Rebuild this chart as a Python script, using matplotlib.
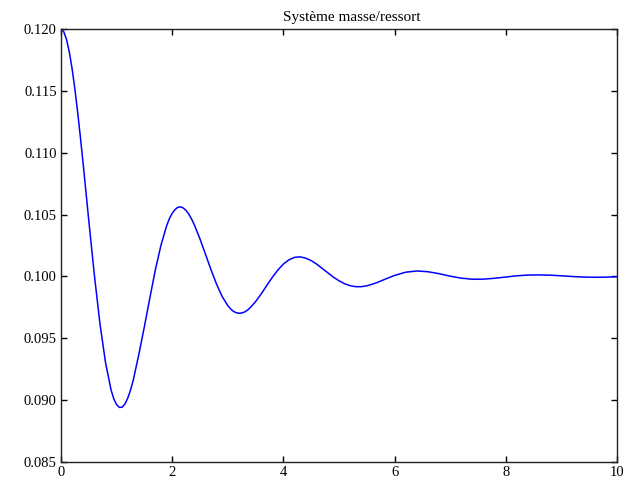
import matplotlib
matplotlib.use("Agg")
import matplotlib.pyplot as plt
import numpy as np

# position of the mass over time
t = [0.0, 0.05, 0.1, 0.15, 0.2, 0.25, 0.3, 0.35, 0.4, 0.5, 0.6, 0.7, 0.8, 0.9,
     0.95, 1.0, 1.05, 1.1, 1.15, 1.2, 1.25, 1.3, 1.4, 1.5, 1.6, 1.7, 1.8, 1.9,
     1.95, 2.0, 2.05, 2.1, 2.15, 2.2, 2.25, 2.3, 2.35, 2.4, 2.5, 2.6, 2.7, 2.8, 2.9,
     3.0, 3.05, 3.1, 3.15, 3.2, 3.25, 3.3, 3.35, 3.4, 3.5, 3.6, 3.7, 3.8, 3.9,
     4.0, 4.1, 4.2, 4.3, 4.4, 4.5, 4.6, 4.7, 4.8, 4.9,
     5.0, 5.1, 5.2, 5.3, 5.4, 5.5, 5.6, 5.7, 5.8, 5.9,
     6.0, 6.2, 6.4, 6.6, 6.8, 7.0, 7.2, 7.4, 7.6, 7.8,
     8.0, 8.2, 8.4, 8.6, 8.8, 9.0, 9.2, 9.4, 9.6, 9.8, 10.0]
x = [0.12000, 0.11978, 0.11914, 0.11813, 0.11678, 0.11514, 0.11326, 0.11121, 0.10904,
     0.10451, 0.10012, 0.09621, 0.09306, 0.09083,
     0.09010, 0.08964, 0.08941, 0.08943, 0.08969, 0.09015, 0.09080, 0.09162,
     0.09369, 0.09594, 0.09830, 0.10059, 0.10255, 0.10409,
     0.10467, 0.10510, 0.10540, 0.10558, 0.10562, 0.10553, 0.10533, 0.10503, 0.10463,
     0.10415, 0.10303, 0.10178, 0.10052, 0.09935, 0.09837,
     0.09764, 0.09738, 0.09718, 0.09707, 0.09702, 0.09704, 0.09712, 0.09726,
     0.09746, 0.09796, 0.09858, 0.09926, 0.09992, 0.10051,
     0.10100, 0.10134, 0.10154, 0.10158, 0.10148, 0.10128, 0.10099, 0.10064, 0.10029, 0.09994,
     0.09965, 0.09941, 0.09925, 0.09917, 0.09917, 0.09924, 0.09937, 0.09953, 0.09972, 0.09990,
     0.10008, 0.10034, 0.10044, 0.10038, 0.10022, 0.10002, 0.09986, 0.09977, 0.09978, 0.09985,
     0.09995, 0.10005, 0.10011, 0.10012, 0.10010, 0.10005, 0.09999, 0.09995, 0.09993, 0.09994, 0.09997]

xticks = [0, 2, 4, 6, 8, 10]
yticks = [0.085, 0.090, 0.095, 0.100, 0.105, 0.110, 0.115, 0.120]

plt.rcParams['font.family'] = ['Liberation Serif', 'DejaVu Serif']

fig = plt.figure(figsize=(6.42, 4.83), dpi=100)
ax = fig.add_axes([0.095, 0.0435, 0.866, 0.8965])
ax.plot(t, x, color="#0000ff", linewidth=1.1, solid_joinstyle="round")

ax.set_xlim(0, 10)
ax.set_ylim(0.085, 0.120)
ax.set_xticks(xticks)
ax.set_xticklabels([str(v) for v in xticks])
ax.set_yticks(yticks)
ax.set_yticklabels(["%.3f" % v for v in yticks])
ax.tick_params(direction="in", top=True, right=True, length=4, width=1,
               labelsize=10.5, pad=3)
for s in ax.spines.values():
    s.set_linewidth(1.0)
    s.set_color("#222222")

ax.set_title("Système masse/ressort", fontsize=11, pad=6, x=0.523)

fig.savefig("out.png", dpi=100)
